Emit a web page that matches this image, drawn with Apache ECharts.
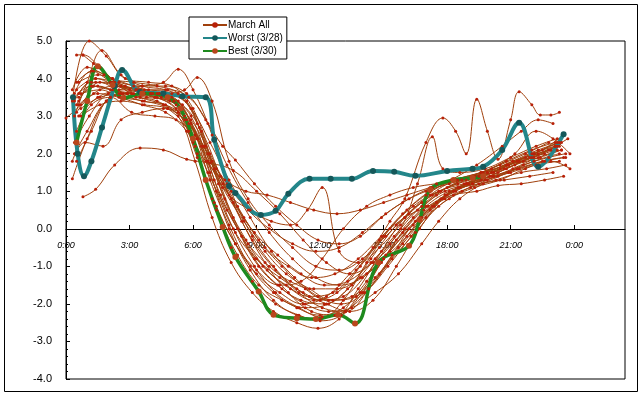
<!DOCTYPE html>
<html>
<head>
<meta charset="utf-8">
<script src="https://cdn.jsdelivr.net/npm/echarts@6/dist/echarts.min.js"></script>
<style>
  html, body { margin: 0; padding: 0; background: #fff; }
  #chart { width: 644px; height: 397px; }
</style>
</head>
<body>
<div id="chart"></div>
<script>
// [hour of day, value] for each day of March
const m01 = [[0.4,3.6],[1.2,4.2],[2.2,3.9],[3.3,3.7],[4.4,3.6],[5.5,3.3],[6.4,2.6],[7.3,1.4],[8.3,0.2],[9.4,-0.9],[10.5,-1.7],[11.6,-2.2],[12.7,-2.3],[13.8,-1.6],[14.9,-0.6],[16.0,0.3],[17.2,0.9],[18.4,1.3],[19.6,1.5],[20.8,1.8],[22.0,2.1],[23.1,2.3]]
const m02 = [[0.5,4.63],[0.8,4.63],[1.6,4.3],[2.6,3.8],[3.7,3.6],[4.8,3.5],[5.9,3.0],[6.8,1.5],[7.7,0.0],[8.7,-1.1],[9.8,-1.9],[10.9,-2.3],[12.0,-2.4],[13.1,-1.9],[14.2,-0.9],[15.3,0.0],[16.4,0.6],[17.6,1.0],[18.8,1.2],[20.0,1.4],[21.2,1.7],[22.4,1.9],[23.4,2.1]]
const m03 = [[0.3,3.4],[1.1,5.0],[1.9,4.6],[2.8,4.0],[3.9,3.9],[5.0,3.8],[6.0,3.2],[6.9,1.8],[7.9,0.3],[8.9,-0.8],[10.0,-1.5],[11.1,-1.9],[12.2,-2.0],[13.3,-1.6],[14.4,-0.8],[15.6,0.1],[16.8,0.7],[18.0,1.1],[19.2,1.4],[20.5,1.7],[21.7,2.0],[22.8,2.3]]
const m04 = [[0.0,2.95],[0.7,3.3],[1.6,3.9],[2.7,3.6],[3.8,3.5],[4.9,3.4],[5.9,2.9],[6.8,2.0],[7.8,0.8],[8.8,-0.3],[9.9,-1.1],[11.0,-1.7],[12.1,-2.1],[13.2,-2.2],[14.3,-1.6],[15.4,-0.7],[16.5,0.2],[17.7,0.8],[18.9,1.2],[20.1,1.4],[21.3,1.6],[22.5,1.8],[23.5,1.9]]
const m05 = [[0.8,0.85],[1.4,1.05],[2.3,1.7],[3.5,2.15],[4.6,2.1],[5.7,1.85],[6.8,1.75],[7.9,1.55],[9.0,1.0],[10.1,0.4],[11.2,-0.3],[12.3,-0.9],[13.4,-1.2],[14.5,-0.9],[15.6,-0.3],[16.7,0.3],[17.9,0.8],[19.1,1.1],[20.3,1.3],[21.5,1.5],[22.7,1.6],[23.6,1.7]]
const m06 = [[0.6,3.0],[1.5,3.5],[2.5,3.7],[3.6,3.8],[4.6,3.9],[5.3,4.25],[6.0,3.7],[6.9,2.5],[7.8,1.0],[8.8,-0.2],[9.8,-1.0],[10.9,-1.6],[12.0,-1.9],[13.1,-1.8],[14.2,-1.2],[15.3,-0.4],[16.4,0.3],[17.5,0.9],[18.7,1.3],[19.9,1.5],[21.1,1.8],[22.3,2.0],[23.3,2.2]]
const m07 = [[0.5,3.7],[1.4,4.0],[2.4,3.8],[3.5,3.7],[4.6,3.6],[5.6,3.7],[6.2,4.03],[6.9,3.4],[7.7,1.8],[8.6,0.8],[9.6,0.1],[10.7,-0.5],[11.8,-1.0],[12.9,-1.1],[14.0,-0.8],[15.1,-0.2],[16.2,0.4],[17.3,0.9],[18.5,1.2],[19.7,1.4],[20.9,1.7],[22.1,2.0],[23.2,2.3]]
const m08 = [[0.4,2.0],[1.0,2.6],[1.9,3.4],[2.9,3.6],[4.0,3.6],[5.1,3.4],[6.1,2.2],[7.0,0.7],[8.0,-0.4],[9.0,-1.2],[10.1,-1.7],[11.2,-2.0],[12.3,-1.8],[13.4,-1.2],[14.5,-0.5],[15.3,0.2],[16.0,0.8],[17.0,2.3],[17.8,2.95],[18.4,2.6],[18.9,2.0],[19.4,3.45],[19.9,2.6],[20.4,1.85],[21.0,2.9],[21.4,3.65],[22.0,3.3],[22.4,3.03],[22.9,3.03],[23.3,3.1]]
const m09 = [[0.5,1.8],[1.2,2.6],[2.1,3.5],[3.1,3.6],[4.2,3.5],[5.2,3.2],[6.2,2.0],[7.1,0.5],[8.1,-0.7],[9.1,-1.5],[10.2,-1.9],[11.3,-2.1],[12.4,-2.0],[13.5,-1.5],[14.6,-0.8],[15.8,0.0],[16.6,1.2],[17.3,2.45],[17.8,1.6],[18.6,1.5],[19.8,1.6],[21.0,1.9],[22.2,2.2],[23.2,2.4]]
const m10 = [[0.6,3.5],[1.5,3.8],[2.5,3.6],[3.6,3.4],[4.7,3.3],[5.7,2.9],[6.7,1.8],[7.7,0.9],[8.7,0.5],[9.7,0.2],[10.6,0.1],[11.4,0.5],[12.1,1.1],[12.9,-0.6],[13.8,-0.9],[14.8,-0.5],[15.8,0.1],[16.8,0.6],[17.9,1.0],[19.0,1.2],[20.2,1.5],[21.4,1.8],[22.6,2.0]]
const m11 = [[0.3,1.33],[1.0,2.4],[1.9,3.4],[2.9,3.6],[4.0,3.6],[5.0,3.5],[5.9,2.8],[6.8,1.3],[7.7,0.1],[8.7,-1.0],[9.8,-1.7],[10.9,-2.1],[12.0,-2.3],[13.1,-2.1],[14.2,-1.4],[15.3,-0.6],[16.4,0.1],[17.5,0.7],[18.6,1.1],[19.8,1.3],[21.0,1.5],[22.2,1.7],[23.3,1.8]]
const m12 = [[0.8,4.63],[1.3,4.4],[2.2,4.0],[3.2,3.9],[4.3,3.8],[5.3,3.6],[6.2,2.8],[7.0,1.3],[7.9,0.0],[8.9,-1.0],[9.9,-1.7],[11.0,-2.1],[12.1,-2.35],[13.2,-2.2],[14.3,-1.6],[15.4,-0.8],[16.5,-0.1],[17.6,0.6],[18.7,1.0],[19.9,1.3],[21.1,1.6],[22.3,1.9],[23.4,2.1]]
const m13 = [[0.4,3.0],[1.0,3.9],[1.7,4.75],[2.6,4.1],[3.6,3.8],[4.7,3.7],[5.7,3.4],[6.6,2.2],[7.5,0.8],[8.5,-0.3],[9.5,-1.1],[10.6,-1.6],[11.7,-1.9],[12.8,-1.7],[13.9,-1.0],[15.0,-0.2],[16.1,0.5],[17.2,1.0],[18.4,1.3],[19.6,1.5],[20.8,1.7],[22.0,2.0],[23.1,2.2]]
const m14 = [[0.5,3.3],[1.3,3.8],[2.2,3.7],[3.3,3.5],[4.3,3.4],[5.3,3.0],[6.1,1.8],[6.9,0.3],[7.8,-0.9],[8.8,-1.7],[9.8,-2.2],[10.9,-2.5],[11.9,-2.65],[12.9,-2.4],[13.9,-1.7],[14.9,-0.9],[15.9,-0.1],[16.9,0.5],[18.0,0.9],[19.2,1.2],[20.4,1.4],[21.6,1.7],[22.8,1.9],[23.6,2.0]]
const m15 = [[0.6,3.9],[1.5,4.1],[2.5,3.9],[3.6,3.8],[4.7,3.8],[5.7,3.6],[6.6,2.9],[7.4,2.2],[8.0,1.83],[8.9,1.2],[9.9,0.6],[10.9,0.1],[11.9,-0.3],[12.9,-0.4],[13.9,-0.2],[14.9,0.3],[15.9,0.7],[17.0,1.0],[18.1,1.2],[19.3,1.4],[20.5,1.6],[21.7,1.9],[22.9,2.1]]
const m16 = [[0.7,3.6],[1.6,3.7],[2.6,3.5],[3.7,3.4],[4.8,3.2],[5.8,2.6],[6.7,1.5],[7.6,0.5],[8.6,-0.4],[9.6,-1.0],[10.6,-1.4],[11.7,-1.6],[12.8,-1.6],[13.9,-1.3],[15.0,-0.8],[16.1,-0.2],[17.2,0.5],[18.3,1.0],[19.5,1.2],[20.7,1.3],[21.9,1.4],[23.0,1.5]]
const m17 = [[0.4,2.3],[1.1,3.0],[2.0,3.6],[3.0,3.7],[4.1,3.6],[5.1,3.4],[6.0,2.3],[6.9,0.8],[7.8,-0.5],[8.8,-1.4],[9.9,-2.0],[11.0,-2.3],[12.0,-2.45],[13.0,-2.3],[14.0,-1.7],[15.0,-0.8],[16.0,0.0],[17.0,0.6],[18.1,1.0],[19.2,1.2],[20.4,1.5],[21.6,1.8],[22.8,2.1],[23.7,2.4]]
const m18 = [[0.5,3.1],[1.3,3.6],[2.3,3.8],[3.4,3.7],[4.5,3.5],[5.5,3.2],[6.4,2.2],[7.3,0.9],[8.3,-0.2],[9.3,-1.0],[10.4,-1.5],[11.5,-1.8],[12.6,-1.7],[13.7,-1.1],[14.8,-0.3],[15.9,0.4],[17.0,0.9],[18.2,1.3],[19.4,1.7],[20.6,2.2],[21.5,2.6],[22.3,2.9],[23.0,2.8]]
const m19 = [[0.6,3.4],[1.4,3.9],[2.4,3.8],[3.5,3.5],[4.6,3.3],[5.6,2.9],[6.5,2.2],[7.4,1.2],[8.4,0.3],[9.4,-0.5],[10.5,-1.0],[11.6,-1.3],[12.7,-1.2],[13.8,-0.8],[14.9,-0.2],[16.0,0.3],[17.1,0.6],[18.3,0.9],[19.4,1.0],[20.4,1.15],[21.5,1.2],[22.6,1.3],[23.5,1.4]]
const m20 = [[0.3,3.7],[1.0,4.3],[1.8,4.1],[2.8,3.8],[3.9,3.7],[5.0,3.6],[5.9,3.2],[6.8,2.3],[7.7,1.3],[8.7,0.3],[9.7,-0.6],[10.8,-1.3],[11.9,-1.8],[13.0,-2.0],[14.1,-1.7],[15.2,-1.0],[16.3,-0.2],[17.4,0.6],[18.5,1.1],[19.7,1.4],[20.9,1.7],[22.1,2.0],[23.3,2.3]]
const m21 = [[0.7,3.2],[1.6,3.5],[2.6,3.6],[3.7,3.7],[4.8,3.7],[5.8,3.5],[6.7,2.8],[7.6,1.7],[8.6,0.7],[9.6,-0.1],[10.7,-0.8],[11.8,-1.3],[12.9,-1.5],[14.0,-1.3],[15.1,-0.7],[16.2,0.0],[17.3,0.6],[18.4,1.0],[19.6,1.3],[20.8,1.6],[22.0,1.9],[23.2,2.1]]
const m22 = [[0.5,2.6],[1.2,3.3],[2.1,3.5],[3.1,3.1],[4.2,3.0],[5.2,2.9],[6.2,2.4],[7.1,1.6],[8.1,0.6],[9.1,-0.3],[10.2,-1.0],[11.3,-1.6],[12.4,-1.9],[13.5,-1.8],[14.6,-1.3],[15.7,-0.5],[16.8,0.3],[17.9,0.9],[19.0,1.2],[20.2,1.4],[21.4,1.6],[22.6,1.8],[23.6,1.9]]
const m23 = [[0.4,3.5],[1.2,3.8],[2.1,3.7],[3.2,3.6],[4.3,3.5],[5.3,3.1],[6.2,1.9],[7.1,0.6],[8.0,-0.4],[9.0,-1.1],[10.1,-1.5],[11.1,-1.4],[12.1,-0.8],[13.1,0.0],[14.2,0.6],[15.3,0.9],[16.4,1.1],[17.5,1.2],[18.7,1.3],[19.9,1.5],[21.1,1.8],[22.3,2.1],[23.4,2.3]]
const m24 = [[0.6,3.3],[1.5,3.6],[2.5,3.5],[3.6,3.3],[4.7,3.1],[5.7,2.6],[6.6,1.8],[7.5,1.3],[8.5,1.0],[9.5,0.9],[10.6,0.7],[11.7,0.5],[12.8,0.4],[13.9,0.5],[15.0,0.7],[16.1,0.9],[17.2,1.1],[18.3,1.3],[19.5,1.4],[20.7,1.6],[21.9,1.9],[23.1,2.2]]
const m25 = [[0.5,3.9],[1.3,4.2],[2.2,4.0],[3.2,3.8],[4.3,3.6],[5.3,3.4],[6.2,2.4],[7.1,1.0],[8.0,-0.1],[9.0,-0.8],[10.1,-1.3],[11.2,-1.7],[12.3,-2.0],[13.4,-2.2],[14.5,-1.9],[15.6,-1.0],[16.7,0.0],[17.8,0.8],[18.9,1.2],[20.1,1.5],[21.3,1.8],[22.5,2.1],[23.5,2.5]]
const m26 = [[0.3,1.8],[0.9,2.3],[1.75,2.2],[2.6,2.9],[3.6,3.1],[4.6,3.2],[5.6,3.0],[6.5,2.2],[7.4,1.1],[8.4,0.2],[9.4,-0.6],[10.4,-1.2],[11.5,-1.6],[12.6,-1.9],[13.7,-1.8],[14.8,-1.2],[15.9,-0.4],[17.0,0.3],[18.1,0.8],[19.3,1.1],[20.5,1.3],[21.7,1.6],[22.9,1.8],[23.8,1.6]]
const m27 = [[0.6,3.6],[1.4,4.0],[2.3,3.9],[3.3,3.7],[4.4,3.6],[5.4,3.5],[6.3,2.7],[7.2,1.2],[8.1,0.0],[9.1,-1.0],[10.2,-1.6],[11.3,-2.0],[12.4,-2.2],[13.5,-2.1],[14.6,-1.7],[15.7,-1.2],[16.8,-0.4],[17.6,0.2],[18.6,0.8],[19.7,1.2],[20.9,1.5],[22.1,1.8],[23.3,2.0]]
const m28 = [[0.4,3.4],[1.2,3.9],[2.1,3.9],[3.1,3.6],[4.2,3.5],[5.2,3.3],[6.1,2.5],[7.0,1.6],[7.9,0.7],[8.9,-0.1],[10.0,-0.7],[11.1,-1.2],[12.2,-1.5],[13.3,-1.4],[14.4,-0.9],[15.5,-0.2],[16.6,0.5],[17.7,1.0],[18.9,1.3],[20.1,1.6],[21.2,2.0],[22.2,2.6],[23.0,2.4],[23.8,2.0]]
const m29 = [[0.7,3.0],[1.6,3.3],[2.6,3.4],[3.7,3.3],[4.8,3.2],[5.8,2.8],[6.7,2.0],[7.6,1.2],[8.6,0.5],[9.6,0.0],[10.7,-0.4],[11.8,-0.6],[12.9,-0.5],[14.0,-0.1],[15.1,0.4],[16.2,0.8],[17.3,1.1],[18.5,1.3],[19.7,1.5],[20.9,1.7],[22.1,1.9],[23.2,2.2]]
const marchAll = [m01, m02, m03, m04, m05, m06, m07, m08, m09, m10, m11, m12, m13, m14, m15, m16, m17, m18, m19, m20, m21, m22, m23, m24, m25, m26, m27, m28, m29]

const worst0328 = [[0.33,3.5],[0.55,2.0],[0.85,1.4],[1.2,1.8],[1.7,2.7],[2.3,3.8],[2.65,4.23],[3.5,3.64],[4.6,3.6],[5.5,3.53],[6.6,3.5],[7.0,2.37],[7.7,1.14],[8.0,0.95],[9.2,0.37],[9.9,0.48],[10.5,0.93],[11.5,1.33],[12.5,1.33],[13.5,1.33],[14.5,1.54],[15.5,1.52],[16.5,1.41],[18.0,1.54],[19.2,1.6],[19.7,1.65],[20.6,2.1],[21.4,2.82],[22.3,1.65],[23.5,2.52]]
const best0330 = [[0.5,2.3],[1.0,3.4],[1.5,4.33],[2.2,3.83],[2.7,3.48],[3.6,3.6],[4.8,3.5],[5.4,3.2],[6.0,2.4],[6.6,1.3],[7.4,0.05],[8.0,-0.75],[9.1,-1.67],[9.8,-2.29],[10.9,-2.38],[11.8,-2.4],[12.85,-2.29],[13.65,-2.52],[14.75,-0.9],[16.2,-0.45],[16.7,0.24],[17.2,1.04],[18.3,1.3],[19.2,1.35],[19.7,1.4]]

const legendNames = ['March All', 'Worst (3/28)', 'Best (3/30)']

const chart = echarts.init(document.getElementById('chart'))

const brownSeries = marchAll.map(day => ({
  name: legendNames[0],
  type: 'line',
  data: day,
  smooth: 0.4,
  symbol: 'circle',
  symbolSize: 3,
  lineStyle: { color: '#A0400C', width: 1 },
  itemStyle: { color: '#B82008' },
  emphasis: { disabled: true },
}))

const option = {
  animation: false,
  backgroundColor: '#fff',
  textStyle: { fontFamily: 'Liberation Sans, Arial, sans-serif' },
  graphic: [{
    type: 'rect',
    shape: { x: 4.5, y: 4.5, width: 633, height: 387 },
    style: { fill: 'none', stroke: '#000', lineWidth: 1 },
    z: -1,
  }],
  legend: {
    data: legendNames,
    orient: 'vertical',
    left: 189,
    top: 17,
    itemWidth: 24,
    itemHeight: 7,
    itemGap: 3,
    padding: [3, 4, 3, 13],
    borderColor: '#000',
    borderWidth: 1,
    backgroundColor: '#fff',
    textStyle: { fontSize: 10, color: '#000', padding: [0, 0, 0, -4] },
  },
  grid: { left: 66, top: 41, right: 19, bottom: 18, show: true, borderColor: '#000', borderWidth: 1 },
  xAxis: {
    type: 'value',
    min: 0,
    max: 26.4,
    interval: 3,
    position: 'bottom',
    offset: -150,
    axisLine: { onZero: false, lineStyle: { color: '#000', width: 1 } },
    axisTick: { inside: true, length: 4, lineStyle: { color: '#000' } },
    axisLabel: {
      margin: 12,
      fontSize: 9,
      fontStyle: 'italic',
      color: '#000',
      showMaxLabel: false,
      formatter: v => (v % 24) + ':00',
    },
    splitLine: { show: false },
  },
  yAxis: {
    type: 'value',
    min: -4,
    max: 5,
    interval: 1,
    axisLine: { show: true, lineStyle: { color: '#000' } },
    axisTick: { inside: true, length: 4, lineStyle: { color: '#000' } },
    minorTick: { show: true, splitNumber: 5, length: 2, lineStyle: { color: '#000' } },
    axisLabel: { margin: 14, fontSize: 11, color: '#000', formatter: v => v.toFixed(1) },
    splitLine: { show: false },
  },
  series: [
    ...brownSeries,
    {
      name: legendNames[1],
      type: 'line',
      data: worst0328,
      smooth: 0.4,
      symbol: 'circle',
      symbolSize: 6,
      lineStyle: { color: '#23868A', width: 4 },
      itemStyle: { color: '#15585A' },
      emphasis: { disabled: true },
    },
    {
      name: legendNames[2],
      type: 'line',
      data: best0330,
      smooth: 0.4,
      symbol: 'circle',
      symbolSize: 6,
      lineStyle: { color: '#1E8A1E', width: 3.5 },
      itemStyle: { color: '#B8461C' },
      emphasis: { disabled: true },
    },
  ],
}

chart.setOption(option)
window.addEventListener('resize', () => chart.resize())
</script>
</body>
</html>
